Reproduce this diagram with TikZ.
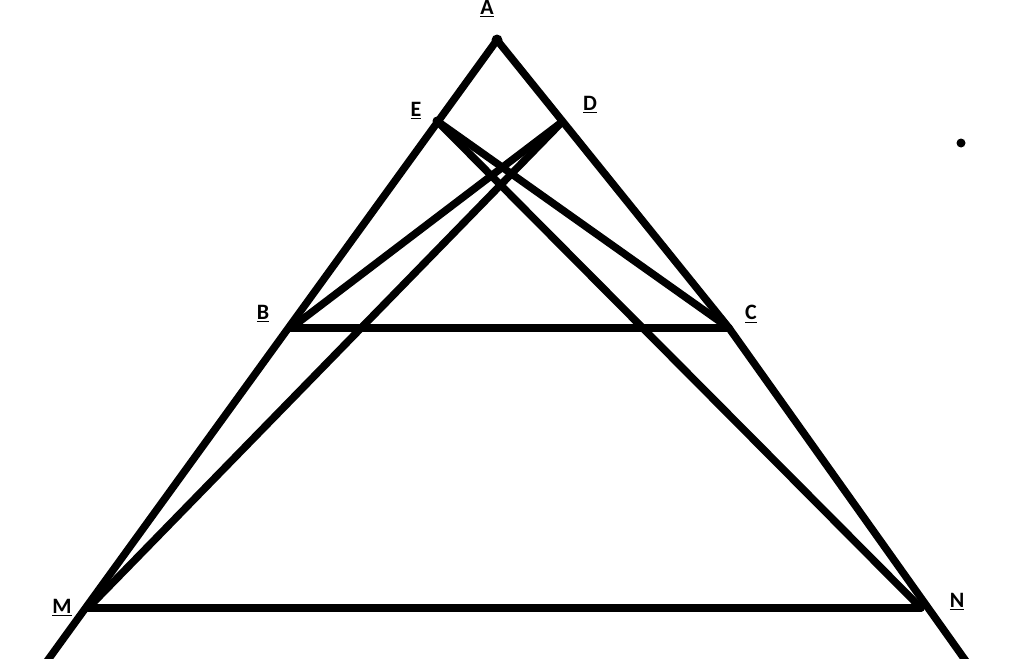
\documentclass[tikz,border=0pt]{standalone}
\usepackage{fontspec}
\setsansfont{Carlito}
\usetikzlibrary{positioning}

\begin{document}
\begin{tikzpicture}[x=0.02cm,y=-0.02cm,
  seg/.style={line width=0.15cm,line cap=round},
  lbl/.style={font=\sffamily\bfseries\fontsize{12.5}{13}\selectfont,inner sep=0pt},
  pt/.style={circle,fill,inner sep=0pt,minimum size=0.22cm}]
 \clip (0,0) rectangle (1024,659);
 % points
 \coordinate (A) at (497,40);
 \coordinate (E) at (437,121);
 \coordinate (D) at (562,122);
 \coordinate (B) at (291,328);
 \coordinate (C) at (729,328);
 \coordinate (M) at (88,608);
 \coordinate (N) at (921,608);
 \coordinate (Mx) at (45,664);
 \coordinate (Nx) at (968,664);
 % sides
 \draw[seg] (A) -- (Mx);
 \draw[seg] (A) -- (C) -- (Nx);
 \draw[seg] (B) -- (C);
 \draw[seg] (M) -- (N);
 % cross lines
 \draw[seg] (E) -- (C);
 \draw[seg] (E) -- (N);
 \draw[seg] (D) -- (B);
 \draw[seg] (D) -- (M);
 \node[pt] at (A) {};
 \node[pt,minimum size=0.18cm] at (E) {};
 \node[pt,minimum size=0.18cm] (dot) at (961,143) {};
 % labels
 \node[lbl] (lA) at (487,9) {\underline{A}};
 \node[lbl] (lE) at (416,111) {\underline{E}};
 \node[lbl] (lD) at (590,105) {\underline{D}};
 \node[lbl] (lB) at (263,314) {\underline{B}};
 \node[lbl] (lC) at (751,314) {\underline{C}};
 \node[lbl] (lM) at (62,608) {\underline{M}};
 \node[lbl] (lN) at (957,602) {\underline{N}};
\end{tikzpicture}
\end{document}
